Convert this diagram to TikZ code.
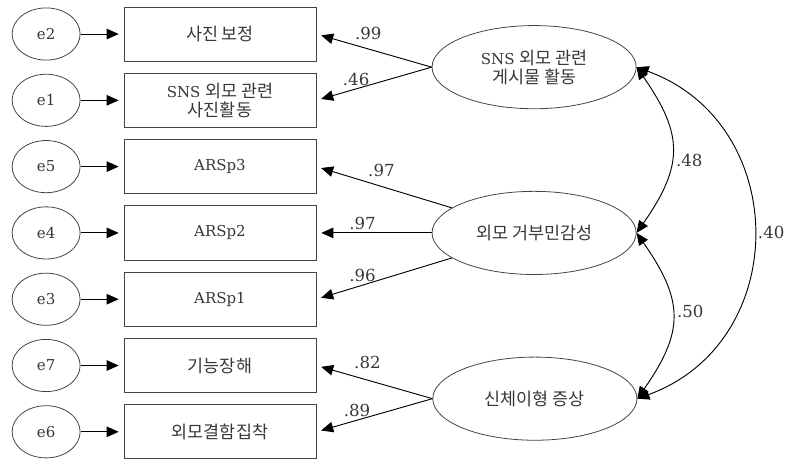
\documentclass[tikz,border=0pt]{standalone}
\usepackage{fontspec}
\usepackage{xcolor}
\usepackage{tikz}
\usetikzlibrary{
    shapes,
    shapes.geometric,
    positioning,
    calc,
    arrows,
    arrows.meta
}
\setmainfont{DejaVu Serif}
\newfontfamily\kr{Noto Sans CJK KR}[Scale=1.16]
\definecolor{edgegray}{RGB}{60,70,80}
\definecolor{txtgray}{RGB}{55,55,55}
\tikzset{
  basic/.style = {
      draw=edgegray,
      line width=0.6pt,
      text=txtgray,
      font=\fontsize{11.3}{14.5}\selectfont,
      align=center,
      inner sep=0pt
  },
  observed/.style = {
      basic,
      rectangle,
      minimum width=5.08cm,
      minimum height=1.43cm
  },
  latent/.style = {
      basic,
      ellipse,
      minimum width=5.40cm,
      minimum height=2.20cm
  },
  resid/.style = {
      basic,
      ellipse,
      minimum width=1.80cm,
      minimum height=1.38cm
  },
  load/.style = {
      ->,
      line width=0.7pt,
      shorten >=1.3mm
  },
  covar/.style = {
      <->,
      line width=0.7pt
  },
  coef/.style = {
      font=\fontsize{12.5}{15}\selectfont,
      text=txtgray
  }
}

\begin{document}
\begin{tikzpicture}[node distance=1.754cm, >={Triangle[length=3.2mm,width=2.8mm]}]
        \useasboundingbox (0,0) rectangle (20.90,-12.22);
        % Observed variables
        \node[observed] (b1) at (5.82,-0.90) {{\kr 사진 보정}};
        \node[observed, below of=b1] (b2) {SNS {\kr 외모 관련}\\{\kr 사진활동}};
        \node[observed, below of=b2] (b3) {ARSp3};
        \node[observed, below of=b3] (b4) {ARSp2};
        \node[observed, below of=b4] (b5) {ARSp1};
        \node[observed, below of=b5] (b6) {{\kr 기능장해}};
        \node[observed, below of=b6] (b7) {{\kr 외모결함집착}};
        % Errors
        \node[resid, left of=b1, node distance=4.6cm] (e2) {e2};
        \node[resid, left of=b2, node distance=4.6cm] (e1) {e1};
        \node[resid, left of=b3, node distance=4.6cm] (e5) {e5};
        \node[resid, left of=b4, node distance=4.6cm] (e4) {e4};
        \node[resid, left of=b5, node distance=4.6cm] (e3) {e3};
        \node[resid, left of=b6, node distance=4.6cm] (e7) {e7};
        \node[resid, left of=b7, node distance=4.6cm] (e6) {e6};
        % Latent variables
        \node[latent] (sns) at ($(b1)!0.5!(b2)+(8.31,0)$) {SNS {\kr 외모 관련}\\{\kr 게시물 활동}};
        \node[latent, right of=b4, node distance=8.31cm] (rej) {{\kr 외모 거부민감성}};
        \node[latent] (bdd) at ($(b6)!0.5!(b7)+(8.33,0)$) {{\kr 신체이형 증상}};
        % Error paths
        \draw[load] (e2) -- (b1);
        \draw[load] (e1) -- (b2);
        \draw[load] (e5) -- (b3);
        \draw[load] (e4) -- (b4);
        \draw[load] (e3) -- (b5);
        \draw[load] (e7) -- (b6);
        \draw[load] (e6) -- (b7);
        % Loadings
        \draw[load] (sns.west) -- node[coef, pos=0.55, above=3.5pt] {.99} (b1.east);
        \draw[load] (sns.west) -- node[coef, pos=0.655, above=-1pt] {.46} (b2.east);
        \draw[load] (rej) -- node[coef, pos=0.52, above=3.5pt] {.97} (b3.east);
        \draw[load] (rej) -- node[coef, pos=0.6, above=-1pt] {.97} (b4.east);
        \draw[load] (rej) -- node[coef, pos=0.66, above=-1pt] {.96} (b5.east);
        \draw[load] (bdd.west) -- node[coef, pos=0.56, above=5pt] {.82} (b6.east);
        \draw[load] (bdd.west) -- node[coef, pos=0.65, above=-1pt] {.89} (b7.east);
        % Covariances
        \draw[covar] (sns.east) to[out=-55, in=55, looseness=1.27]
            node[coef, pos=0.57, right] {.48} (rej.east);
        \draw[covar] (rej.east) to[out=-55, in=55, looseness=1.27]
            node[coef, pos=0.47, right] {.50} (bdd.east);
        \draw[covar] (sns.east) to[out=-20, in=20, looseness=1.27]
            node[coef, pos=0.5, right] {.40} (bdd.east);
    \end{tikzpicture}
\end{document}
